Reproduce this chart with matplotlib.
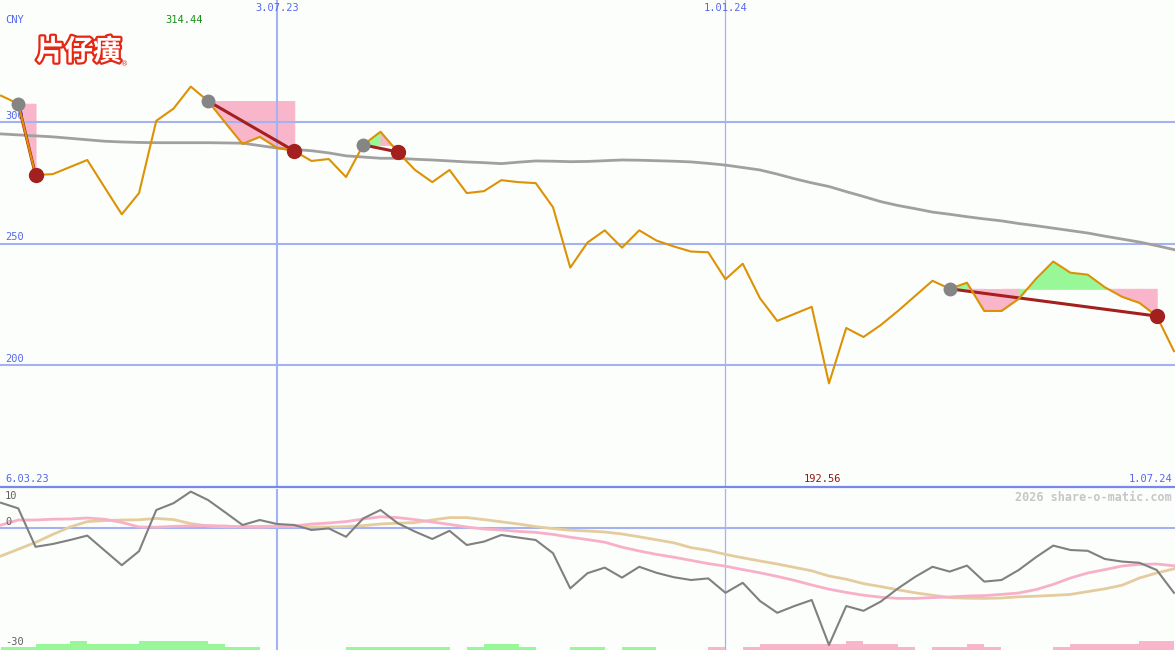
import numpy as np
import matplotlib.pyplot as plt
import matplotlib.patheffects as pe
from matplotlib.lines import Line2D

# weekly closes, CNY (index 0 = first week shown)
price = [310.7, 307.4, 278.1, 278.5, 281.4, 284.3, 273.1, 262.0, 270.7, 300.4,
         305.4, 314.44, 308.5, 299.6, 290.9, 293.8, 289.3, 288.0, 283.9, 284.7,
         277.3, 290.5, 295.9, 287.6, 280.2, 275.2, 280.2, 270.7, 271.5, 276.0,
         275.2, 274.8, 264.9, 240.1, 250.4, 255.4, 248.3, 255.4, 251.2, 248.8,
         246.7, 246.4, 235.3, 241.7, 227.5, 218.2, 221.1, 224.0, 192.56, 215.3,
         211.6, 216.5, 222.3, 228.5, 234.7, 231.4, 233.9, 222.3, 222.3, 227.3,
         235.5, 242.6, 238.0, 237.2, 232.0, 228.1, 225.6, 220.2, 205.8]

# long moving average (grey)
ma = [295.0, 294.6, 294.2, 293.8, 293.2, 292.6, 292.0, 291.7, 291.5, 291.4,
      291.4, 291.4, 291.4, 291.3, 291.2, 290.2, 289.2, 288.6, 288.1, 287.2,
      286.0, 285.5, 285.0, 285.0, 284.6, 284.3, 283.9, 283.5, 283.2, 282.8,
      283.4, 283.9, 283.8, 283.6, 283.7, 284.0, 284.3, 284.2, 284.0, 283.8,
      283.5, 282.9, 282.2, 281.2, 280.2, 278.5, 276.6, 274.9, 273.4, 271.3,
      269.3, 267.2, 265.6, 264.3, 262.9, 262.0, 261.0, 260.1, 259.3, 258.2,
      257.3, 256.3, 255.3, 254.3, 253.0, 251.8, 250.6, 249.1, 247.5]

# signal periods (start week, end week)
sig_start = [1, 12, 21, 55]
sig_end = [2, 17, 23, 67]

# lower panel
osc = [6.3, 4.9, -4.7, -4.0, -3.0, -1.9, -5.6, -9.3, -5.8, 4.5,
       6.2, 9.1, 7.0, 3.9, 0.75, 2.0, 1.0, 0.75, -0.5, -0.1,
       -2.2, 2.4, 4.5, 1.2, -0.9, -2.75, -0.7, -4.25, -3.4, -1.75,
       -2.4, -3.0, -6.3, -15.1, -11.3, -9.9, -12.4, -9.7, -11.2, -12.3,
       -13.0, -12.6, -16.2, -13.7, -18.25, -21.2, -19.5, -18.0, -29.25, -19.5,
       -20.7, -18.4, -15.1, -12.2, -9.7, -10.9, -9.4, -13.4, -13.0, -10.5,
       -7.3, -4.4, -5.5, -5.7, -7.75, -8.4, -8.7, -10.5, -16.2]
sig_pink = [0.75, 2.0, 2.0, 2.2, 2.25, 2.5, 2.2, 1.4, 0.25, 0.2,
            0.4, 0.55, 0.6, 0.5, 0.25, 0.2, 0.4, 0.5, 1.0, 1.25,
            1.6, 2.25, 2.8, 2.6, 2.1, 1.5, 0.9, 0.25, -0.25, -0.5,
            -0.85, -1.1, -1.6, -2.3, -2.9, -3.55, -4.8, -5.75, -6.6, -7.3,
            -8.1, -8.9, -9.55, -10.4, -11.2, -12.1, -13.1, -14.25, -15.3, -16.1,
            -16.8, -17.3, -17.6, -17.6, -17.4, -17.25, -17.0, -16.9, -16.6, -16.25,
            -15.4, -14.1, -12.5, -11.25, -10.4, -9.5, -9.1, -9.0, -9.45]
sig_tan = [-7.0, -5.3, -3.6, -1.6, 0.25, 1.6, 1.85, 2.0, 2.05, 2.4,
           2.1, 1.1, 0.5, 0.3, 0.35, 0.4, 0.5, 0.5, 0.25, 0.25,
           0.35, 0.6, 1.0, 1.2, 1.35, 2.0, 2.6, 2.6, 2.1, 1.55,
           1.0, 0.35, -0.15, -0.55, -0.75, -1.0, -1.5, -2.2, -2.95, -3.7,
           -4.9, -5.6, -6.6, -7.45, -8.25, -9.0, -9.85, -10.7, -12.0, -12.8,
           -13.9, -14.65, -15.45, -16.2, -16.8, -17.4, -17.55, -17.6, -17.5, -17.2,
           -17.05, -16.85, -16.6, -15.9, -15.2, -14.3, -12.5, -11.25, -10.2]
# small bars along the bottom, one per week interval (+ green, - pink)
bar_lvl = [1, 1, 2, 2, 3, 2, 2, 2, 3, 3, 3, 3, 2, 1, 1,
           0, 0, 0, 0, 0, 1, 1, 1, 1, 1, 1, 0, 1, 2, 2, 1, 0, 0,
           1, 1, 0, 1, 1, 0, 0, 0, -1, 0, -1, -2, -2, -2, -2, -2, -3,
           -2, -2, -1, 0, -1, -1, -2, -1, 0, 0, 0, -1, -2, -2, -2, -2, -3, -3]

price_levels = [300, 250, 200]
date_labels = ['6.03.23', '3.07.23', '1.01.24', '1.07.24']
date_weeks = [-1, 16, 42, 68]

bg = '#FCFEFC'
grid = '#A4B2F2'
blue_txt = '#5468EC'
pink = '#F9B6CA'
green = '#98F898'
dred = '#A3201E'
mono = 'DejaVu Sans Mono'

W, H = 1175, 650
fig = plt.figure(figsize=(W / 100, H / 100), dpi=100)
fig.patch.set_facecolor(bg)
ax = fig.add_axes([0, 163 / H, 1, 487 / H])
axb = fig.add_axes([0, 0, 1, 161 / H])
for a in (ax, axb):
    a.set_facecolor(bg)
    a.set_xlim(-0.06, 68.06)
    a.axis('off')
ax.set_ylim(150, 350)
axb.set_ylim(-30.5, 9.75)

x = np.arange(len(price))
p = np.array(price)

# grid
for lv in price_levels:
    ax.axhline(lv, color=grid, lw=1.5, zorder=1.5)
    ax.annotate(str(lv), xy=(0, lv), xycoords=('axes fraction', 'data'),
                xytext=(5, 1), textcoords='offset pixels', va='bottom',
                color=blue_txt, fontsize=7.5, family=mono, zorder=1.6)
for wk, lw in zip(date_weeks[1:3], [1.5, 0.9]):
    ax.axvline(wk, color=grid, lw=lw, zorder=1.5)
    axb.axvline(wk, color=grid, lw=lw, zorder=1.5)
    ax.annotate(date_labels[date_weeks.index(wk)], xy=(wk, 1),
                xycoords=('data', 'axes fraction'), xytext=(0, -3),
                textcoords='offset pixels', ha='center', va='top',
                color=blue_txt, fontsize=7.5, family=mono)
ax.annotate(date_labels[0], xy=(0, 0), xycoords='axes fraction', xytext=(5, 3),
            textcoords='offset pixels', va='bottom', color=blue_txt,
            fontsize=7.5, family=mono)
ax.annotate(date_labels[-1], xy=(1, 0), xycoords='axes fraction', xytext=(-3, 3),
            textcoords='offset pixels', ha='right', va='bottom', color=blue_txt,
            fontsize=7.5, family=mono)

# signal areas
for s, e in zip(sig_start, sig_end):
    lvl = p[s]
    for k in range(s, e):
        c = green if p[k + 1] > lvl else pink
        ax.fill_between(x[k:k + 2], lvl, p[k:k + 2], facecolor=c, edgecolor=c,
                        lw=0.7, zorder=1)
    ax.plot([s, e], [p[s], p[e]], color=dred, lw=2.2, zorder=3)

ax.plot(x, ma, color='#A0A0A0', lw=2, zorder=2)
ax.plot(x, p, color='#DC9204', lw=1.5, zorder=4)
ax.plot(sig_start, p[sig_start], 'o', color='#858585', ms=9, zorder=5)
ax.plot(sig_end, p[sig_end], 'o', color=dred, ms=10, zorder=5)

imax, imin = int(np.argmax(p)), int(np.argmin(p))
ax.annotate(f'{p[imax]:.2f}', xy=(imax, 1), xycoords=('data', 'axes fraction'),
            xytext=(-7, -15), textcoords='offset pixels', ha='center', va='top',
            color='#189018', fontsize=7.5, family=mono)
ax.annotate(f'{p[imin]:.2f}', xy=(imin, 0), xycoords=('data', 'axes fraction'),
            xytext=(-7, 3), textcoords='offset pixels', ha='center', va='bottom',
            color='#901818', fontsize=7.5, family=mono)
ax.annotate('CNY', xy=(0, 1), xycoords='axes fraction', xytext=(5, -15),
            textcoords='offset pixels', va='top', color=blue_txt,
            fontsize=7.5, family=mono)

# logo
fig.text(36 / W, 1 - 52 / H, '片仔癀', fontsize=20.5, family='Noto Sans CJK SC',
         weight='heavy', color='white', va='center',
         path_effects=[pe.withStroke(linewidth=3.2, foreground='#E42814')])
fig.text(121 / W, 1 - 64 / H, '®', fontsize=5, color='#E42814', va='center')

# separator
fig.add_artist(Line2D([0, 1], [1 - 487 / H] * 2, transform=fig.transFigure,
                      color='#7888E8', lw=1.6))

# lower panel
axb.axhline(0, color=grid, lw=1.5, zorder=1.5)
lv = np.array(bar_lvl)
axb.bar(np.arange(len(lv)), np.abs(lv) * 0.75, width=1, align='edge', bottom=-30.5,
        color=[green if v > 0 else pink for v in lv], lw=0, zorder=1)
axb.plot(x, sig_tan, color='#E4CC9E', lw=2, zorder=2)
axb.plot(x, sig_pink, color='#F8B0C8', lw=2, zorder=2)
axb.plot(x, osc, color='#808080', lw=1.5, zorder=3)
for val, off, va in [(10, None, 'top'), (0, 1, 'bottom'), (-30, 1, 'bottom')]:
    if off is None:
        axb.annotate(str(val), xy=(0, 1), xycoords='axes fraction', xytext=(5, -2),
                     textcoords='offset pixels', va=va, color='#606060',
                     fontsize=7.5, family=mono)
    else:
        axb.annotate(str(val), xy=(0, val), xycoords=('axes fraction', 'data'),
                     xytext=(5, off), textcoords='offset pixels', va=va,
                     color='#606060', fontsize=7.5, family=mono, zorder=4)
axb.annotate('2026 share-o-matic.com', xy=(1, 1), xycoords='axes fraction',
             xytext=(-3, -2), textcoords='offset pixels', ha='right', va='top',
             color='#C6C6C6', fontsize=8.5, family=mono, weight='bold')

fig.savefig('out.png', dpi=100, facecolor=bg)
